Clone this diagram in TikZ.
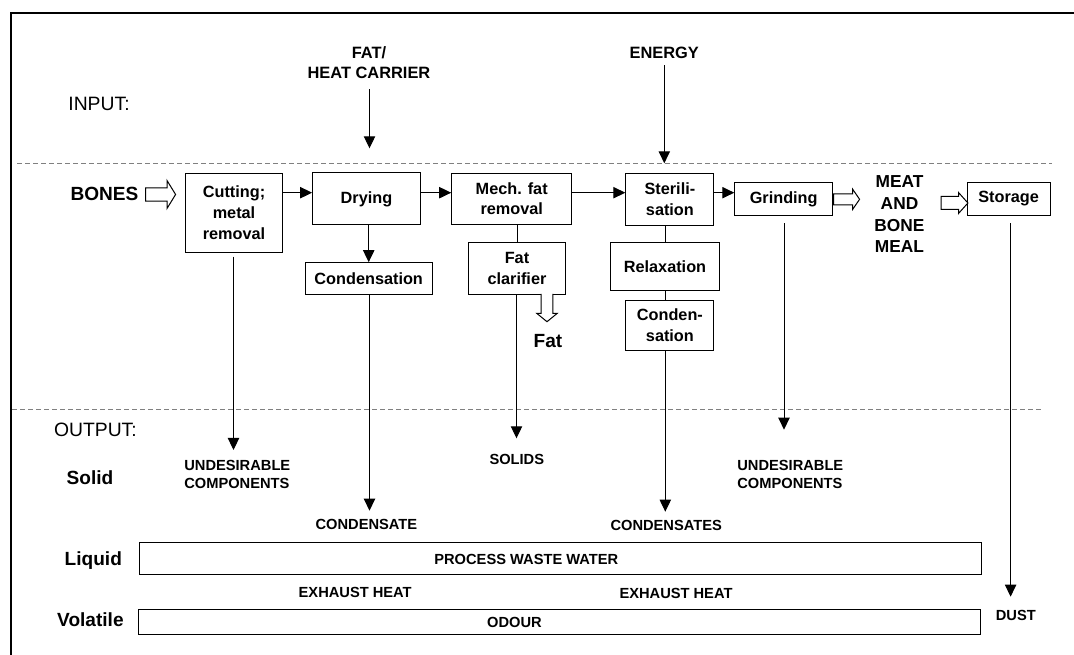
\documentclass[tikz,border=0pt]{standalone}
\usepackage{fontspec}
\setmainfont{Liberation Sans}
\usetikzlibrary{arrows.meta}

\tikzset{
  stage/.style={draw, line width=0.75pt, inner sep=0pt, align=center, font=\fontsize{12.2}{15.5}\selectfont\bfseries},
  band/.style={draw, line width=0.75pt, inner sep=0pt},
  tag/.style={inner sep=0pt, text depth=0pt, align=left, font=\fontsize{11}{13.5}\selectfont\bfseries},
  side/.style={inner sep=0pt, text depth=0pt, font=\fontsize{14.3}{17}\selectfont\bfseries},
  zone/.style={inner sep=0pt, text depth=0pt, font=\fontsize{14.5}{17}\selectfont},
  feed/.style={inner sep=0pt, text depth=0pt, align=center, font=\fontsize{12.3}{15}\selectfont\bfseries},
  flow/.style={line width=0.75pt, -{Triangle[length=9pt,width=8.5pt]}},
  link/.style={line width=0.75pt},
  hollow/.style={line width=0.75pt, fill=white},
  divider/.style={line width=0.75pt, gray, dash pattern=on 3.75pt off 2.25pt}
}

\begin{document}
\begin{tikzpicture}[x=0.75pt, y=-0.75pt]
	\useasboundingbox (0,0) rectangle (1074,655);
	\draw[line width=1.5pt] (10.5,655) -- (10.5,12.7) -- (1074,12.7);

	\coordinate (upL) at (17,163.3);
	\coordinate (upR) at (1052,163.3);
	\coordinate (loL) at (12,410);
	\coordinate (loR) at (1041.8,410);
	\draw[divider] (upL) -- (upR);
	\draw[divider] (loL) -- (loR);

	\node[zone] (inlbl) at (99,104) {INPUT:};
	\node[feed] (fat) at (369,62.5) {FAT/\\HEAT CARRIER};
	\node[feed] (energy) at (664.3,53) {ENERGY};
	\coordinate (fattip) at (369.5,148.3);
	\draw[flow, shorten <=8pt] (fattip |- fat.south) -- (fattip);
	\draw[flow, shorten <=4.6pt] (energy.south) -- (energy.south |- upL);

	\coordinate (row) at (0,192.7);
	\node[side] (bones) at (104.5,194) {BONES};
	\draw[hollow] (145.7,187.8) -- (167,187.8) -- (167,180.5) -- (175.6,194.5) -- (167,208.5) -- (167,201.2) -- (145.7,201.2) -- cycle;

	\node[stage, minimum width=73pt, minimum height=59.5pt] (cut) at (234,212.7) {Cutting;\\metal\\removal};
	\node[stage, minimum width=80.8pt, minimum height=39pt] (dry) at (366.5,199) {Drying};
	\node[stage, minimum width=95.3pt, minimum height=24pt] (cond1) at (368.7,278.7) {Condensation};
	\node[stage, minimum width=90pt, minimum height=38.3pt] (mech) at (511.7,198.8) {Mech. fat\\removal};
	\node[stage, minimum width=73pt, minimum height=38.8pt] (clar) at (517,268.2) {Fat\\clarifier};
	\node[stage, minimum width=66.1pt, minimum height=38.8pt] (steril) at (669.9,199.2) {Sterili-\\sation};
	\node[stage, minimum width=81.2pt, minimum height=36.3pt] (relax) at (665,266.5) {Relaxation};
	\node[stage, minimum width=66.1pt, minimum height=36.8pt] (cond2) at (669.9,325.5) {Conden-\\sation};
	\node[stage, minimum width=73.4pt, minimum height=24.2pt] (grind) at (783.7,198.9) {Grinding};
	\node[stage, minimum width=62.1pt, minimum height=24.2pt] (store) at (1008.6,198.9) {Storage};

	\draw[flow] (cut.east |- row) -- (dry.west |- row);
	\draw[flow] (dry.east |- row) -- (mech.west |- row);
	\draw[flow] (mech.east |- row) -- (steril.west |- row);
	\draw[flow] (steril.east |- row) -- (grind.west |- row);

	\draw[hollow] (833.6,194) -- (852.7,194) -- (852.7,189.3) -- (859.6,199.3) -- (852.7,209.3) -- (852.7,205) -- (833.6,205) -- cycle;
	\node[feed, font=\fontsize{13}{16.3}\selectfont\bfseries] (mbm) at (899.5,214.3) {MEAT\\AND\\BONE\\MEAL};
	\draw[hollow] (941.2,196.5) -- (958.5,196.5) -- (958.5,192.5) -- (967.9,203) -- (958.5,213.5) -- (958.5,209.5) -- (941.2,209.5) -- cycle;

	\draw[flow] (cond1.north |- dry.south) -- (cond1.north);
	\draw[link] (clar.north |- mech.south) -- (clar.north);
	\draw[hollow] (541.2,294) -- (541.2,313.3) -- (536.7,313.3) -- (547,321.7) -- (557.3,313.3) -- (552.8,313.3) -- (552.8,294);
	\node[side] (fatout) at (548,341) {Fat};
	\draw[link] (relax.north |- steril.south) -- (relax.north);
	\draw[link] (relax.south) -- (relax.south |- cond2.north);

	\node[zone] (outlbl) at (95.4,429.3) {OUTPUT:};
	\node[side] (solid) at (90,477.7) {Solid};
	\node[side] (liquid) at (93.3,558.3) {Liquid};
	\node[side] (volatile) at (90.4,620) {Volatile};

	\node[tag] (undes1) at (237.3,474) {UNDESIRABLE\\COMPONENTS};
	\node[tag] (solids) at (516.8,459.3) {SOLIDS};
	\node[tag] (undes2) at (790.3,474) {UNDESIRABLE\\COMPONENTS};
	\node[tag] (cdst1) at (366.4,524.3) {CONDENSATE};
	\node[tag] (cdst2) at (666.2,525) {CONDENSATES};
	\node[band, minimum width=631.7pt, minimum height=23.5pt] (water) at (560.7,558.4) {};
	\node[tag] (waterlbl) at (526.3,559.3) {PROCESS WASTE WATER};
	\node[tag] (heat1) at (355.2,592.7) {EXHAUST HEAT};
	\node[tag] (heat2) at (676,593.3) {EXHAUST HEAT};
	\node[band, minimum width=631.5pt, minimum height=18.5pt] (odour) at (559.4,621.7) {};
	\node[tag] (odourlbl) at (514.5,622) {ODOUR};
	\node[tag] (dust) at (1015.8,615) {DUST};

	\coordinate (cuttip) at (233.5,450);
	\coordinate (clartip) at (516.5,438.3);
	\coordinate (cond1tip) at (369.5,510.7);
	\coordinate (cond2tip) at (665.3,511.7);
	\coordinate (grindtip) at (784,429.7);
	\coordinate (storetip) at (1010.6,596.7);
	\draw[flow, shorten <=2.8pt] (cuttip |- cut.south) -- (cuttip);
	\draw[flow] (clartip |- clar.south) -- (clartip);
	\draw[flow] (cond1tip |- cond1.south) -- (cond1tip);
	\draw[flow] (cond2tip |- cond2.south) -- (cond2tip);
	\draw[flow, shorten <=5.8pt] (grindtip |- grind.south) -- (grindtip);
	\draw[flow, shorten <=5.8pt] (storetip |- store.south) -- (storetip);
\end{tikzpicture}
\end{document}
